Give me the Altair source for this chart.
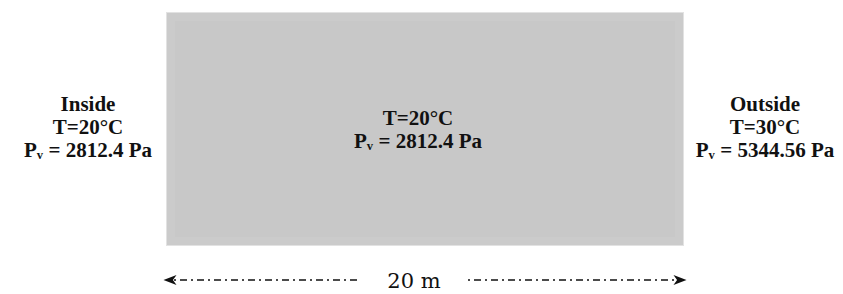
import altair as alt
import pandas as pd

# diagram geometry (reference pixel coordinates)
wall_x = [166, 684]
wall_y = [12, 246]
bevel = 9

labels_text = ["Inside", "T=20°C", "Pᵥ = 2812.4 Pa",
               "T=20°C", "Pᵥ = 2812.4 Pa",
               "Outside", "T=30°C", "Pᵥ = 5344.56 Pa"]
labels_x = [88, 88, 88, 418, 418, 765, 765, 765]
labels_y = [105, 128, 151, 119, 142, 105, 128, 151]

dim_text = ["20 m"]
dim_x = [414]
dim_y = [282]
line_y = [280]
seg_x1 = [174, 468]
seg_x2 = [361, 676]
arrow_x = [170, 680]
arrow_dir = ["left", "right"]

X = alt.Scale(domain=[8, 835])
Y = alt.Scale(domain=[8, 294], reverse=True)

def xe(f):
    return alt.X(f, type="quantitative", scale=X, axis=None)

def ye(f):
    return alt.Y(f, type="quantitative", scale=Y, axis=None)

rect_df = pd.DataFrame({
    "x1": [wall_x[0], wall_x[0] + 1, wall_x[0] + bevel],
    "x2": [wall_x[1], wall_x[1] - 1, wall_x[1] - bevel],
    "y1": [wall_y[0], wall_y[0] + 1, wall_y[0] + bevel],
    "y2": [wall_y[1], wall_y[1] - 1, wall_y[1] - bevel],
    "c": ["#e2e2e2", "#cbcbcb", "#c8c8c8"],
})
rects = alt.Chart(rect_df).mark_rect().encode(
    x=xe("x1"), x2="x2", y=ye("y1"), y2="y2",
    color=alt.Color("c:N", scale=None),
)

lab_df = pd.DataFrame({"t": labels_text, "x": labels_x, "y": labels_y})
labels = alt.Chart(lab_df).mark_text(
    font="Liberation Serif", fontWeight="bold", fontSize=21,
    align="center", baseline="middle", color="#111111",
).encode(x=xe("x"), y=ye("y"), text="t:N")

seg_df = pd.DataFrame({"x1": seg_x1, "x2": seg_x2, "y": line_y * 2})
segs = alt.Chart(seg_df).mark_rule(
    color="#111111", strokeWidth=1.6, strokeDash=[2, 4, 7, 4],
).encode(x=xe("x1"), x2="x2", y=ye("y"))

arr_df = pd.DataFrame({"x": arrow_x, "y": line_y * 2, "d": arrow_dir})
left_shape = "M -1 0 L 1 -0.75 L 0.45 0 L 1 0.75 Z"
right_shape = "M 1 0 L -1 -0.75 L -0.45 0 L -1 0.75 Z"
arrows = alt.Chart(arr_df).mark_point(filled=True, size=170, opacity=1,
                                      color="#111111").encode(
    x=xe("x"), y=ye("y"),
    shape=alt.Shape("d:N", scale=alt.Scale(domain=["left", "right"],
                                           range=[left_shape, right_shape]),
                    legend=None),
)

dim_df = pd.DataFrame({"t": dim_text, "x": dim_x, "y": dim_y})
dim = alt.Chart(dim_df).mark_text(
    font="DejaVu Serif", fontSize=21, align="center", baseline="middle",
    color="#111111",
).encode(x=xe("x"), y=ye("y"), text="t:N")

chart = alt.layer(rects, labels, segs, arrows, dim).properties(
    width=827, height=286, padding=0,
    autosize=alt.AutoSizeParams(type="none"),
).configure_view(stroke=None)

chart.save("out.html", embed_options={"renderer": "svg", "actions": False})
